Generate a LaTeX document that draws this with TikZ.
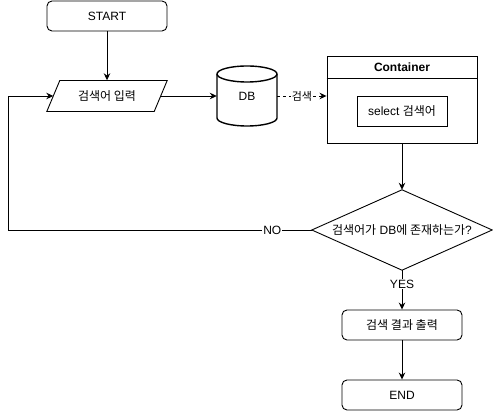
\documentclass[tikz,border=0pt]{standalone}
\usepackage{fontspec}
\setmainfont{Liberation Sans}
\newfontfamily\kr{Noto Sans CJK KR}
\usetikzlibrary{arrows.meta,calc}
\begin{document}
\begin{tikzpicture}[x=1pt,y=1pt,
  font=\fontsize{12}{14}\selectfont,
  every node/.style={inner sep=0pt},
  rbox/.style={draw, line width=0.9pt, rounded corners=5pt, minimum width=120pt, minimum height=30pt},
  plainbox/.style={draw, line width=0.9pt, minimum width=90pt, minimum height=30pt},
  conn/.style={line width=0.9pt, -{Stealth[length=7pt,width=6.5pt]}},
  lbl/.style={fill=white, inner sep=1pt}
]
\useasboundingbox (0,0) rectangle (493,411);

% START
\node[rbox] (start) at (107,395) {START};

% input parallelogram
\node[minimum width=107pt, minimum height=31pt] (in) at (107,315) {\kr 검색어 입력};
\draw[line width=0.9pt] ($(in.west)+(-6.5,-15.5)$) -- ($(in.east)+(-6.5,-15.5)$)
  -- ($(in.east)+(6.5,15.5)$) -- ($(in.west)+(6.5,15.5)$) -- cycle;

% DB cylinder
\node[minimum width=60pt, minimum height=60pt] (db) at (247,315) {DB};
\draw[line width=1.4pt] (217,337) -- (217,293) arc (180:360:30 and 8) -- (277,337)
  arc (0:180:30 and 8) -- cycle;
\draw[line width=1.4pt] (217,337) arc (180:360:30 and 8);

% Container
\node[draw, line width=0.9pt, minimum width=150pt, minimum height=87pt] (ct) at (402,311.5) {};
\draw[line width=0.9pt] ($(ct.north west)+(0,-23)$) -- ($(ct.north east)+(0,-23)$);
\node (cttitle) at (402,343.5) {\bfseries Container};
\node[plainbox] (sel) at (402,300) {select {\kr 검색어}};

% Decision diamond
\node[minimum width=180pt, minimum height=80pt] (q) at (402,181) {{\kr 검색어가} DB{\kr 에 존재하는가}?};
\draw[line width=0.9pt] (q.north) -- (q.east) -- (q.south) -- (q.west) -- cycle;

% Output and END
\node[rbox] (out) at (402,86) {\kr 검색 결과 출력};
\node[rbox] (end) at (402,16) {END};

\coordinate (loop) at (8,181);

% connectors
\draw[conn] (start.south) -- (in.north);
\draw[conn] (in.east) -- (db.west);
\draw[conn, dash pattern=on 3pt off 3pt] (db.east) -- (db.east -| ct.west)
  node[lbl, midway, font=\kr\fontsize{11}{13}\selectfont] {검색};
\draw[conn] (ct.south) -- (q.north);
\draw[conn] (q.west) -- node[lbl, pos=0.13] {NO} (loop) |- (in.west);
\draw[conn] (q.south) -- node[lbl, pos=0.35] {YES} (out.north);
\draw[conn] (out.south) -- (end.north);
\end{tikzpicture}
\end{document}
